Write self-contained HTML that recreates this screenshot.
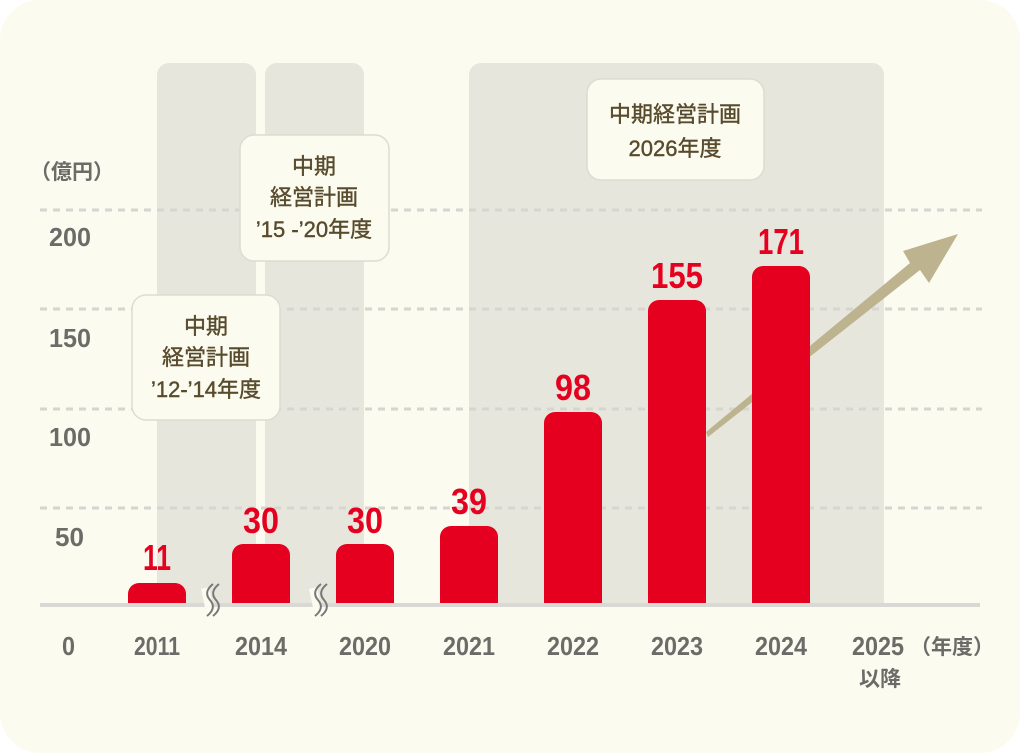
<!DOCTYPE html>
<html><head><meta charset="utf-8"><style>
html,body{margin:0;padding:0;background:#fff;}
svg{display:block;}
.ax{font-family:"Liberation Sans",sans-serif;font-size:26px;fill:#6b6b68;font-weight:bold;}
.jp{font-family:"Liberation Sans","Noto Sans CJK JP",sans-serif;font-weight:bold;}
.val{font-family:"Liberation Sans",sans-serif;font-size:36px;font-weight:bold;fill:#e60020;}
.bx{font-family:"Liberation Sans","Noto Sans CJK JP",sans-serif;font-size:22px;fill:#584a2c;stroke:#584a2c;stroke-width:0.4;}
</style></head><body>
<svg width="1020" height="753" viewBox="0 0 1020 753" xmlns="http://www.w3.org/2000/svg">
<rect x="0" y="0" width="1020" height="753" rx="40" fill="#fbfbf0"/>
<rect x="157" y="63" width="99" height="541" rx="12" fill="#e7e6dc"/>
<rect x="265" y="63" width="99" height="541" rx="12" fill="#e7e6dc"/>
<rect x="469" y="63" width="415" height="541" rx="12" fill="#e7e6dc"/>
<rect x="157" y="590" width="99" height="14" fill="#e7e6dc"/>
<rect x="265" y="590" width="99" height="14" fill="#e7e6dc"/>
<rect x="469" y="590" width="415" height="14" fill="#e7e6dc"/>
<g stroke="#d6d6d0" stroke-width="3" stroke-dasharray="7,6">
<line x1="40" y1="210" x2="982" y2="210"/>
<line x1="40" y1="309" x2="982" y2="309"/>
<line x1="40" y1="409" x2="982" y2="409"/>
<line x1="40" y1="508" x2="982" y2="508"/>
</g>
<polygon points="706,432 910,263 903,251 958,234 929,283 920,270 708,437" fill="#bdb48f"/>
<g fill="#e60020">
<path d="M128,604 V594 a11,11 0 0 1 11,-11 H175 a11,11 0 0 1 11,11 V604Z"/>
<path d="M232,604 V555 a11,11 0 0 1 11,-11 H279 a11,11 0 0 1 11,11 V604Z"/>
<path d="M336,604 V555 a11,11 0 0 1 11,-11 H383 a11,11 0 0 1 11,11 V604Z"/>
<path d="M440,604 V537 a11,11 0 0 1 11,-11 H487 a11,11 0 0 1 11,11 V604Z"/>
<path d="M544,604 V423 a11,11 0 0 1 11,-11 H591 a11,11 0 0 1 11,11 V604Z"/>
<path d="M648,604 V311 a11,11 0 0 1 11,-11 H695 a11,11 0 0 1 11,11 V604Z"/>
<path d="M752,604 V277 a11,11 0 0 1 11,-11 H799 a11,11 0 0 1 11,11 V604Z"/>
</g>
<rect x="40" y="603" width="940" height="4" fill="#d8d8d4"/>
<g stroke="#fbfbf0" stroke-width="8"><line x1="205" y1="588" x2="212" y2="622"/><line x1="313" y1="588" x2="320" y2="622"/></g>
<g fill="none" stroke="#777" stroke-width="2">
<path d="M213,584 q-10,8 -3,16 q7,8 -3,16"/><path d="M219,584 q-10,8 -3,16 q7,8 -3,16"/>
<path d="M321,584 q-10,8 -3,16 q7,8 -3,16"/><path d="M327,584 q-10,8 -3,16 q7,8 -3,16"/>
</g>
<g class="val">
<text x="143" y="570" textLength="28" lengthAdjust="spacingAndGlyphs">11</text>
<text x="243" y="533" textLength="36" lengthAdjust="spacingAndGlyphs">30</text>
<text x="347" y="533" textLength="36" lengthAdjust="spacingAndGlyphs">30</text>
<text x="451" y="514" textLength="36" lengthAdjust="spacingAndGlyphs">39</text>
<text x="555" y="400" textLength="36" lengthAdjust="spacingAndGlyphs">98</text>
<text x="651" y="288" textLength="52" lengthAdjust="spacingAndGlyphs">155</text>
<text x="758" y="254" textLength="46" lengthAdjust="spacingAndGlyphs">171</text>
</g>
<g class="ax">
<text x="62" y="655" textLength="13" lengthAdjust="spacingAndGlyphs">0</text>
<text x="55" y="546" textLength="29" lengthAdjust="spacingAndGlyphs">50</text>
<text x="49" y="446" textLength="42" lengthAdjust="spacingAndGlyphs">100</text>
<text x="49" y="347" textLength="42" lengthAdjust="spacingAndGlyphs">150</text>
<text x="49" y="246" textLength="42" lengthAdjust="spacingAndGlyphs">200</text>
<text x="134" y="655" textLength="46" lengthAdjust="spacingAndGlyphs">2011</text>
<text x="235" y="655" textLength="52" lengthAdjust="spacingAndGlyphs">2014</text>
<text x="339" y="655" textLength="52" lengthAdjust="spacingAndGlyphs">2020</text>
<text x="443" y="655" textLength="52" lengthAdjust="spacingAndGlyphs">2021</text>
<text x="547" y="655" textLength="52" lengthAdjust="spacingAndGlyphs">2022</text>
<text x="651" y="655" textLength="52" lengthAdjust="spacingAndGlyphs">2023</text>
<text x="755" y="655" textLength="52" lengthAdjust="spacingAndGlyphs">2024</text>
<text x="852" y="655" textLength="52" lengthAdjust="spacingAndGlyphs">2025</text>
</g>
<text class="jp" x="910" y="654" font-size="21" fill="#6b6b68">（年度）</text>
<text class="jp" x="880" y="686" font-size="21" fill="#6b6b68" text-anchor="middle">以降</text>
<text class="jp" x="30" y="179" font-size="21" fill="#6b6b68">（億円）</text>
<g fill="#fbfbf0" stroke="#dcdcd0" stroke-width="1.5">
<rect x="132" y="295" width="148" height="125" rx="14"/>
<rect x="240" y="135" width="149" height="126" rx="14"/>
<rect x="587" y="79" width="177" height="101" rx="14"/>
</g>
<g class="bx" text-anchor="middle">
<text x="206" y="334">中期</text><text x="206" y="365">経営計画</text><text x="206" y="397">’12-’14年度</text>
<text x="314" y="174">中期</text><text x="314" y="205">経営計画</text><text x="314" y="237">’15 -’20年度</text>
<text x="675" y="122">中期経営計画</text><text x="675" y="156">2026年度</text>
</g>
</svg>
</body></html>
